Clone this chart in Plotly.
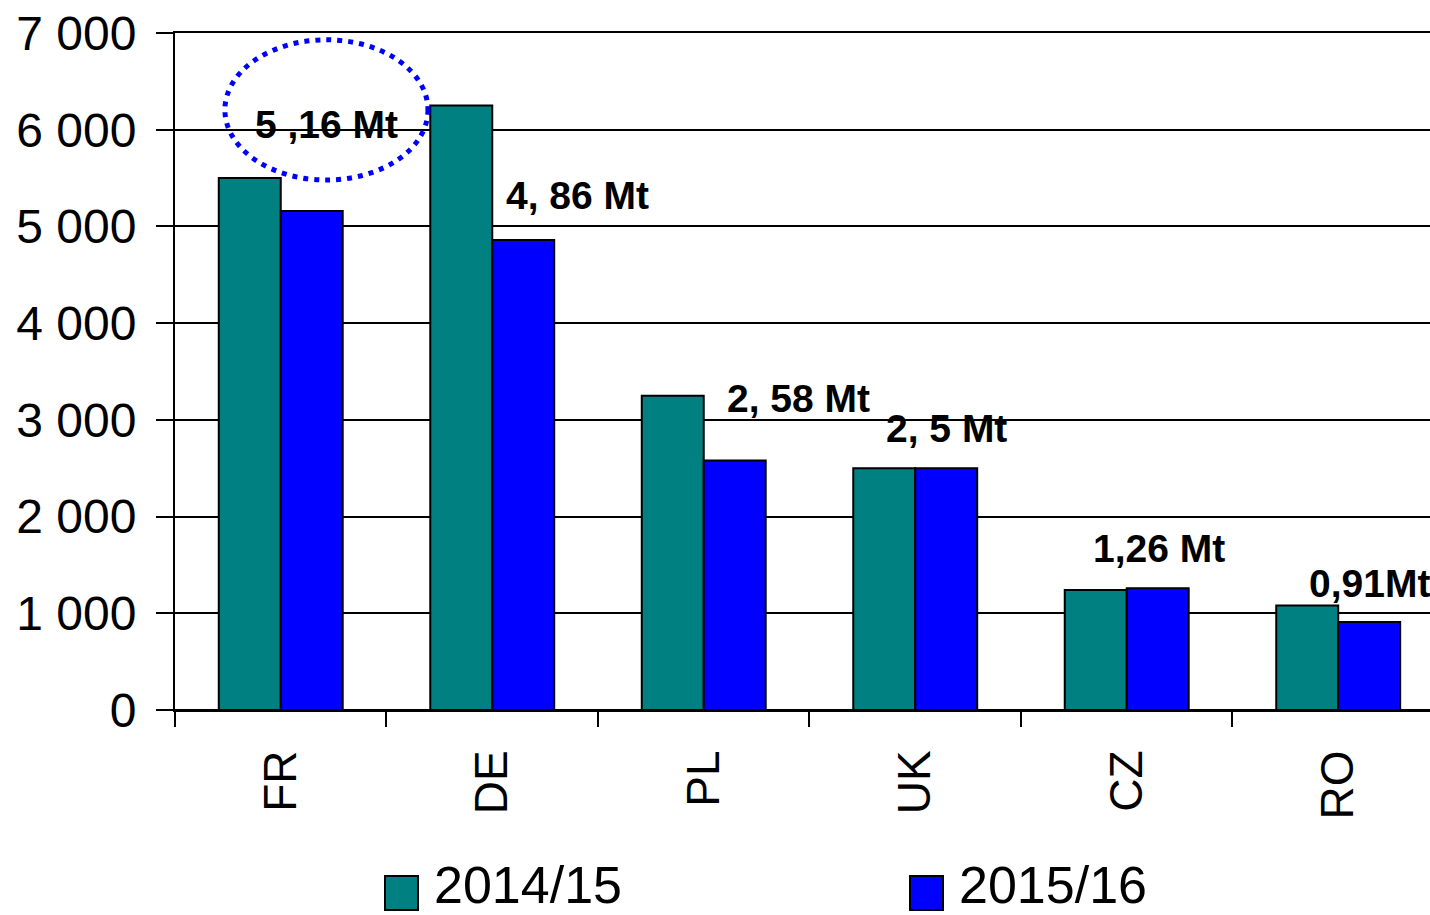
import plotly.graph_objects as go

# Data
countries = ["FR", "DE", "PL", "UK", "CZ", "RO"]
series_names = ["2014/15", "2015/16"]
values_1415 = [5500, 6250, 3250, 2500, 1240, 1080]
values_1516 = [5160, 4860, 2580, 2500, 1260, 910]
series_colors = ["#008080", "#0000FF"]

# Callout labels (text, x in category units, y in data units)
label_texts = ["5 ,16 Mt", "4, 86 Mt", "2, 58 Mt", "2, 5 Mt", "1,26 Mt", "0,91Mt"]
label_x = [0.214, 1.405, 2.446, 3.150, 4.152, 4.853]
label_y = [6050, 5325, 3225, 2915, 1675, 1310]
label_anchor = ["center", "center", "center", "center", "center", "left"]

FONT = "Liberation Sans, Arial, sans-serif"

# Plot area in pixels
W, H = 1430, 915
L, R, T, B = 175, 0, 33, 205


def px_to_paper(px, py):
    return (px - L) / (W - L - R), (H - B - py) / (H - T - B)


fig = go.Figure()

for name, vals, col in zip(series_names, [values_1415, values_1516], series_colors):
    fig.add_trace(go.Bar(
        x=countries,
        y=vals,
        name=name,
        marker=dict(color=col, line=dict(color="black", width=2)),
        showlegend=False,
    ))

# value callouts
for txt, x, y, anc in zip(label_texts, label_x, label_y, label_anchor):
    fig.add_annotation(
        x=x, y=y, xref="x", yref="y", text=txt, showarrow=False,
        font=dict(family=FONT, size=39, color="black", weight="bold"),
        xanchor=anc, yanchor="middle",
    )

# dotted ellipse around FR label
fig.add_shape(
    type="circle", xref="x", yref="y",
    x0=-0.264, x1=0.696, y0=5480, y1=6930,
    line=dict(color="#0000FF", width=5, dash="5px,6px"),
    layer="above",
)

# manual legend (large square swatches)
legend_pos = [(385, 432), (910, 957)]
for (sx, tx), name, col in zip(legend_pos, series_names, series_colors):
    x0, y0 = px_to_paper(sx, 910)
    x1, y1 = px_to_paper(sx + 33, 876)
    fig.add_shape(type="rect", xref="paper", yref="paper",
                  x0=x0, x1=x1, y0=y0, y1=y1,
                  fillcolor=col, line=dict(color="black", width=2))
    ax, ay = px_to_paper(tx, 885)
    fig.add_annotation(x=ax, y=ay, xref="paper", yref="paper", text=name,
                       showarrow=False, xanchor="left", yanchor="middle",
                       font=dict(family=FONT, size=52, color="black"))

fig.update_layout(
    width=W, height=H,
    margin=dict(l=L, r=R, t=T, b=B),
    plot_bgcolor="white",
    paper_bgcolor="white",
    barmode="group",
    bargap=0.414,
    bargroupgap=0,
    separators=", ",
    font=dict(family=FONT, color="black"),
    showlegend=False,
)

fig.update_xaxes(
    range=[-0.5, 5.434],
    showline=True, linecolor="black", linewidth=2, mirror=True,
    ticks="outside", tickson="boundaries", ticklen=15, tickwidth=2, tickcolor="black",
    tickangle=-90, ticklabelstandoff=20,
    tickfont=dict(family=FONT, size=46, color="black"),
    showgrid=False,
)

fig.update_yaxes(
    range=[0, 7000], dtick=1000, tickformat=",",
    showline=True, linecolor="black", linewidth=2,
    ticks="outside", ticklen=17, tickwidth=2, tickcolor="black",
    ticklabelstandoff=10,
    tickfont=dict(family=FONT, size=48, color="black"),
    showgrid=True, gridcolor="black", gridwidth=2,
    zeroline=True, zerolinecolor="black", zerolinewidth=2,
)

fig.write_html("out.html", config={"displayModeBar": False},
               post_script="document.body.style.margin='0';")
